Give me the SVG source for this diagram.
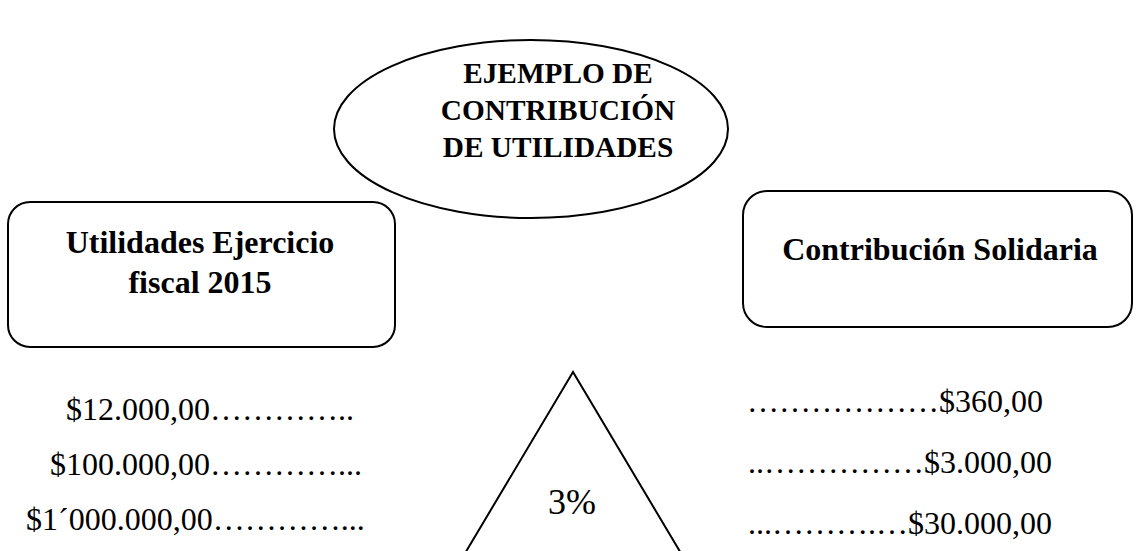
<svg xmlns="http://www.w3.org/2000/svg" width="1136" height="551" viewBox="0 0 1136 551">
<style>
.shape{fill:#fff;stroke:#000;stroke-width:2}
.bold{font-family:"Liberation Serif","Times New Roman",serif;font-weight:bold;fill:#000}
.reg{font-family:"Liberation Serif","Times New Roman",serif;font-size:32px;fill:#000}
</style>
<rect width="1136" height="551" fill="#fff"/>
<g id="left-box">
<rect class="shape" x="8" y="202" width="387" height="145" rx="22" ry="22"/>
<text class="bold" font-size="32" text-anchor="middle" x="200" y="253">Utilidades Ejercicio</text>
<text class="bold" font-size="32" text-anchor="middle" x="200" y="293">fiscal 2015</text>
</g>
<g id="right-box">
<rect class="shape" x="743" y="191" width="389" height="136" rx="24" ry="24"/>
<text class="bold" font-size="32" text-anchor="middle" x="940" y="260">Contribución Solidaria</text>
</g>
<g id="title">
<ellipse class="shape" cx="531" cy="129" rx="197" ry="89"/>
<text class="bold" font-size="29.3" text-anchor="middle" x="558" y="83">EJEMPLO DE</text>
<text class="bold" font-size="29.3" text-anchor="middle" x="558" y="120">CONTRIBUCIÓN</text>
<text class="bold" font-size="29.3" text-anchor="middle" x="558" y="157">DE UTILIDADES</text>
</g>
<g id="triangle">
<polygon class="shape" points="573,372 461,560 685,560"/>
<text class="reg" style="font-size:36px" text-anchor="middle" x="572" y="514">3%</text>
</g>
<g id="left-values">
<text class="reg" x="66" y="420">$12.000,00…………..</text>
<text class="reg" x="50" y="475">$100.000,00…………...</text>
<text class="reg" x="26" y="530">$1´000.000,00…………...</text>
</g>
<g id="right-values">
<text class="reg" text-anchor="end" x="1043" y="412">………………$360,00</text>
<text class="reg" text-anchor="end" x="1052" y="473">..……………$3.000,00</text>
<text class="reg" text-anchor="end" x="1052" y="534">...……….…$30.000,00</text>
</g>
<g id="connectors"></g>
</svg>
